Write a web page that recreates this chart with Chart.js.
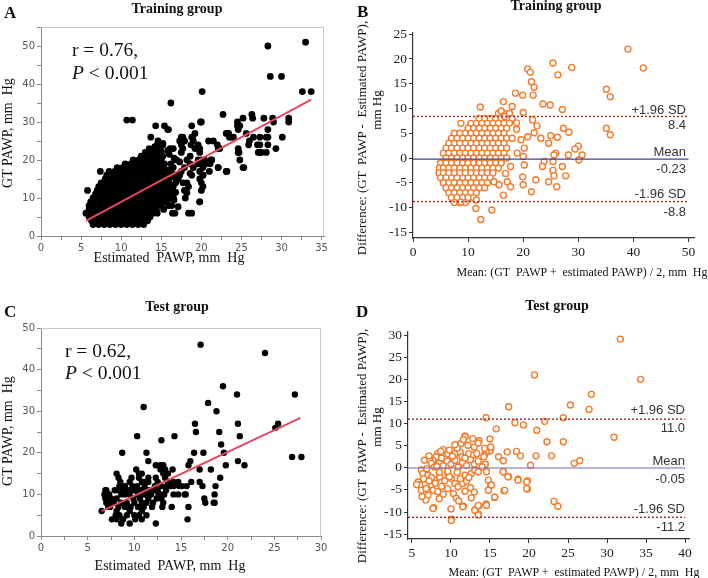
<!DOCTYPE html>
<html>
<head>
<meta charset="utf-8">
<script src="https://cdn.jsdelivr.net/npm/chart.js@4.4.1/dist/chart.umd.min.js"></script>
<style>
body { margin: 0; background: #fff; width: 708px; height: 578px; position: relative; overflow: hidden;
       font-family: "Liberation Serif", "Times New Roman", serif; color: #111; }
canvas { position: absolute; }
.t, .l, .r, .v { position: absolute; white-space: pre; line-height: 1; }
.t { transform: translate(-50%, -50%); }
.l { transform: translateY(-50%); }
.r { transform: translate(-100%, -50%); font-family: "Liberation Sans", Arial, sans-serif; font-size: 13px; color: #333; }
.v { transform: translate(-50%, -50%) rotate(-90deg); }
.ttl { font-weight: bold; font-size: 14px; }
.let { font-weight: bold; font-size: 17px; }
.ax { font-size: 14px; }
.ba { font-size: 13px; }
.bx { font-size: 12px; }
.big { font-size: 19.5px; }
</style>
</head>
<body>
<canvas id="cA" width="354" height="289" style="left:0;top:0"></canvas>
<canvas id="cB" width="354" height="289" style="left:354px;top:0"></canvas>
<canvas id="cC" width="354" height="289" style="left:0;top:289px"></canvas>
<canvas id="cD" width="354" height="289" style="left:354px;top:289px"></canvas>

<!-- panel A -->
<div class="l let" style="left:4px;top:12px">A</div>
<div class="t ttl" style="left:177px;top:9px">Training group</div>
<div class="l big" style="left:72px;top:50px">r = 0.76,</div>
<div class="l big" style="left:72px;top:73px"><i>P</i> &lt; 0.001</div>
<div class="v ax" style="left:8px;top:133px">GT PAWP, mm  Hg</div>
<div class="t ax" style="left:169px;top:258px">Estimated  PAWP, mm  Hg</div>

<!-- panel B -->
<div class="l let" style="left:357px;top:11px">B</div>
<div class="t ttl" style="left:556px;top:6px">Training group</div>
<div class="v ba" style="left:361px;top:138px">Difference: (GT  PAWP -  Estimated PAWP),</div>
<div class="v ba" style="left:376px;top:110px">mm Hg</div>
<div class="t bx" style="left:582px;top:272px">Mean: (GT  PAWP +  estimated PAWP) / 2, mm  Hg</div>
<div class="r" style="left:686px;top:109px">+1.96 SD</div>
<div class="r" style="left:686px;top:124px">8.4</div>
<div class="r" style="left:686px;top:151px">Mean</div>
<div class="r" style="left:686px;top:168px">-0.23</div>
<div class="r" style="left:686px;top:193px">-1.96 SD</div>
<div class="r" style="left:686px;top:211px">-8.8</div>

<!-- panel C -->
<div class="l let" style="left:4px;top:311px">C</div>
<div class="t ttl" style="left:177px;top:307px">Test group</div>
<div class="l big" style="left:65px;top:351px">r = 0.62,</div>
<div class="l big" style="left:65px;top:373px"><i>P</i> &lt; 0.001</div>
<div class="v ax" style="left:8px;top:431px">GT PAWP, mm  Hg</div>
<div class="t ax" style="left:170px;top:566px">Estimated  PAWP, mm  Hg</div>

<!-- panel D -->
<div class="l let" style="left:356px;top:311px">D</div>
<div class="t ttl" style="left:557px;top:306px">Test group</div>
<div class="v ba" style="left:361px;top:446px">Difference: (GT  PAWP -  Estimated PAWP),</div>
<div class="v ba" style="left:376px;top:427px">mm Hg</div>
<div class="t bx" style="left:574px;top:572px">Mean: (GT  PAWP +  estimated PAWP) / 2, mm  Hg</div>
<div class="r" style="left:685px;top:409px">+1.96 SD</div>
<div class="r" style="left:685px;top:427px">11.0</div>
<div class="r" style="left:685px;top:460px">Mean</div>
<div class="r" style="left:685px;top:478px">-0.05</div>
<div class="r" style="left:685px;top:508px">-1.96 SD</div>
<div class="r" style="left:685px;top:526px">-11.2</div>

<script>
// ---- data ----
// A: training group, [estimated PAWP, GT PAWP]
const trainPts = [
  [6.5,3],[7.2,3],[7.9,3],[8.6,3],[9.3,3],[10,3],[10.7,3],[11.4,3],[12.1,3],[12.8,3],
  [6.3,4],[7,4],[7.7,4],[8.4,4],[9.1,4],[9.8,4],[10.5,4],[11.2,4],[11.9,4],[12.6,4],[13.3,4],
  [6,5],[6.7,5],[7.4,5],[8.1,5],[8.8,5],[9.5,5],[10.2,5],[10.9,5],[11.6,5],[12.3,5],[13,5],[13.6,5],
  [5.6,6],[6.3,6],[7,6],[7.7,6],[8.4,6],[9.1,6],[9.8,6],[10.5,6],[11.2,6],[11.9,6],[12.6,6],[13.3,6],[14,6],[14.5,6],[16.4,6],[18.4,6],
  [6,7],[6.7,7],[7.4,7],[8.1,7],[8.8,7],[9.5,7],[10.2,7],[10.9,7],[11.6,7],[12.3,7],[13,7],[13.7,7],[14.4,7],[15.3,7],
  [6,8],[6.7,8],[7.4,8],[8.1,8],[8.8,8],[9.5,8],[10.2,8],[10.9,8],[11.6,8],[12.3,8],[13,8],[13.7,8],[14.4,8],[15,8],[15.9,8],
  [6.2,9],[6.9,9],[7.6,9],[8.3,9],[9,9],[9.7,9],[10.4,9],[11.1,9],[11.8,9],[12.5,9],[13.2,9],[13.9,9],[14.6,9],[15.3,9],[19.8,9],
  [6.5,10],[7.2,10],[7.9,10],[8.6,10],[9.3,10],[10,10],[10.7,10],[11.4,10],[12.1,10],[12.8,10],[13.5,10],[14.2,10],[14.9,10],[15.5,10],[18,10],
  [6.8,11],[7.5,11],[8.2,11],[8.9,11],[9.6,11],[10.3,11],[11,11],[11.7,11],[12.4,11],[13.1,11],[13.8,11],[14.5,11],[15.2,11],[16,11],
  [5.8,12],[7,12],[7.7,12],[8.4,12],[9.1,12],[9.8,12],[10.5,12],[11.2,12],[11.9,12],[12.6,12],[13.3,12],[14,12],[14.7,12],[15.4,12],[16.3,12],[20,12],
  [7.2,13],[7.9,13],[8.6,13],[9.3,13],[10,13],[10.7,13],[11.4,13],[12.1,13],[12.8,13],[13.5,13],[14.2,13],[14.9,13],[15.6,13],[16.4,13],[18.4,13],[20.2,13],
  [7.5,14],[8.2,14],[8.9,14],[9.6,14],[10.3,14],[11,14],[11.7,14],[12.4,14],[13.1,14],[13.8,14],[14.5,14],[15.2,14],[16,14],[18.2,14],[20,14],
  [8,15],[8.7,15],[9.4,15],[10.1,15],[10.8,15],[11.5,15],[12.2,15],[12.9,15],[13.6,15],[14.3,15],[15,15],[15.8,15],[17.1,15],
  [8.2,16],[8.9,16],[9.6,16],[10.3,16],[11,16],[11.7,16],[12.4,16],[13.1,16],[13.8,16],[14.5,16],[15.3,16],[18.8,16],[20.2,16],
  [7.4,17],[8.5,17],[9.2,17],[9.9,17],[10.6,17],[11.3,17],[12,17],[12.7,17],[13.4,17],[14.1,17],[14.8,17],[15.5,17],[17.5,17],[19.8,17],[23.2,17],
  [9.5,18],[10.2,18],[10.9,18],[11.6,18],[12.3,18],[13,18],[13.7,18],[14.4,18],[15.1,18],[19,18],[20.2,18],[22.1,18],[25.2,18],
  [10.5,19],[11.2,19],[11.9,19],[12.6,19],[13.3,19],[14,19],[14.7,19],[15.4,19],[19.6,19],[20.6,19],[21.1,19],
  [11.5,20],[12.2,20],[12.9,20],[13.6,20],[14.3,20],[15,20],[16.9,20],[18.2,20],[20,20],[21.3,20],[24.8,20],
  [12.5,21],[13.2,21],[13.9,21],[14.6,21],[15.2,21],
  [13,22],[13.7,22],[14.4,22],[15,22],[17.5,22],[19.8,22],[24.6,22],[27.1,22],[27.5,22],
  [13.5,23],[14.2,23],[14.9,23],[16.5,23],[19.2,23],[22.1,23],[24.6,23],[29.3,23],
  [14.5,24],[15.2,24],[17.5,24],[18.7,24],[25.9,24],[27.3,24],[28.3,24],
  [17.3,25],[20.9,25],[21.5,25],
  [13.7,26],[17.7,26],[18.9,26],[23.7,26],[24,26],[26.5,26],[28.3,26],[30.1,26],
  [19.2,27],[23.4,27],[25.6,27],
  [15.9,28],[24.6,28],
  [14.3,29],[15.4,29],[18.8,29],[24.5,29],
  [20,30],[24.5,30],[29,30],[30.9,30],[10.7,30.5],[11.4,30.5],
  [25.2,31],[26.4,31],[27.8,31],[28.9,31],[30.9,31],
  [22.7,32],[16.2,35],[20.1,38],[32.6,38],[33.7,38],[28.6,42],[30,42],[28.3,50],[33,51],
  [15.8,28],[19.9,30],[24.8,29],[26.3,32],[23.1,27],[23.5,26],[26,25],[27.3,26],[28.3,28],
  [28.1,26],[27,24],[27.3,22],[28.1,22],[24.7,22],[25.3,18],[23.1,17],[22,24],[22.3,23],[22.1,18],
  [21.2,20],[21,17],[20.4,20],[20,19],[19.8,15],[19.8,9],[18.8,6],[17.5,26],[17.9,25],[18.8,26],
  [19,25],[19.6,24],[19.8,23],[17.7,23],[18.6,21],[19.6,20],[17.3,19.5],[17.9,18],[18.6,19],
  [17.3,16],[18.6,16.5],[20.2,16],[17.7,14],[17.9,12],[18.2,11.4],[16.7,15.4],[17.1,16.3],
  [16.1,12],[16.6,9.5],[17.1,7.7],[16.7,6],[15.8,17.4],[16.1,15.6],[15.2,24.4],[16.1,23],
  [14.6,25],[14.2,23.5],[16.5,10.5],[16.8,11.5],[16.5,13],[16.8,14],[16.3,16.5],[16.5,18],
  [16.2,19],[16.6,20.5],[16,21.5],[15.8,22.5],[16.3,8],[15.8,9.5]
];
const trainFitX = [5.6, 33.7];
const trainFitY = [4.0, 35.9];

// B: training group Bland-Altman, [mean, difference]
const trainBA = [
  [15.5,9],[16.5,9],[17.5,9],
  [12,8],[13,8],[14,8],[15,8],[16,8],[17,8],[18,8],
  [10.5,7],[11.5,7],[12.5,7],[13.5,7],[14.5,7],[15.5,7],[16.5,7],[17.5,7],
  [10,6],[11,6],[12,6],[13,6],[14,6],[15,6],[16,6],[17,6],
  [7.5,5],[8.5,5],[9.5,5],[10.5,5],[11.5,5],[12.5,5],[13.5,5],[14.5,5],[15.5,5],[16.5,5],
  [7,4],[8,4],[9,4],[10,4],[11,4],[12,4],[13,4],[14,4],[15,4],[16,4],[17,4],[18,4],
  [6.5,3],[7.5,3],[8.5,3],[9.5,3],[10.5,3],[11.5,3],[12.5,3],[13.5,3],[14.5,3],[15.5,3],[16.5,3],
  [6,2],[7,2],[8,2],[9,2],[10,2],[11,2],[12,2],[13,2],[14,2],[15,2],[16,2],[17,2],
  [5.5,1],[6.5,1],[7.5,1],[8.5,1],[9.5,1],[10.5,1],[11.5,1],[12.5,1],[13.5,1],[14.5,1],[15.5,1],[16.5,1],
  [6,0],[7,0],[8,0],[9,0],[10,0],[11,0],[12,0],[13,0],[14,0],[15,0],[16,0],[17,0],
  [5,-1],[6,-1],[7,-1],[8,-1],[9,-1],[10,-1],[11,-1],[12,-1],[13,-1],[14,-1],[15,-1],[16,-1],
  [4.8,-2],[5.5,-2],[6.5,-2],[7.5,-2],[8.5,-2],[9.5,-2],[10.5,-2],[11.5,-2],[12.5,-2],[13.5,-2],[14.5,-2],[15.5,-2],
  [4.7,-3],[5.5,-3],[6.5,-3],[7.5,-3],[8.5,-3],[9.5,-3],[10.5,-3],[11.5,-3],[12.5,-3],[13.5,-3],[14.5,-3],
  [5,-4],[6,-4],[7,-4],[8,-4],[9,-4],[10,-4],[11,-4],[12,-4],[13,-4],[14,-4],
  [5.5,-5],[6.5,-5],[7.5,-5],[8.5,-5],[9.5,-5],[10.5,-5],[11.5,-5],[12.5,-5],[13.5,-5],
  [6,-6],[7,-6],[8,-6],[9,-6],[10,-6],[11,-6],[12,-6],[13,-6],
  [6.5,-7],[7.5,-7],[8.5,-7],[9.5,-7],[10.5,-7],[11.5,-7],
  [7,-8],[8,-8],[9,-8],[10,-8],[11,-8],
  [7.5,-9],[8.5,-9],[9.5,-9],
  [39,22],[41.8,18.2],[25.4,19.2],[28.8,18.3],[26.3,16.8],[20.8,18],[21.3,17.3],
  [19.9,12.7],[18.6,13.1],[21.5,15.4],[22,14.3],[21.8,12.7],[35.1,13.9],[35.8,12.4],
  [23.6,10.9],[24.9,10.7],[27.1,9.8],[16.4,11.4],[12.2,10.3],[18,10.4],[35.1,6],[35.8,4.7],
  [20,9.2],[21.7,7.7],[22.5,6.5],[23.2,4],[24.6,3],[25,4.5],[26.2,4.2],[27.3,6],[28.3,5.2],
  [25.9,1],[25.6,0.6],[28.2,0.6],[30,2.4],[29.4,1.8],[30.7,0.6],[30.1,-0.4],
  [23.8,-0.7],[23.5,-1.7],[25.4,-0.7],[27.1,-1.7],[25.4,-2.5],[25.6,-3.6],[27.7,-3.6],
  [24.6,-4.8],[26.1,-5.8],[22.3,-4.4],[21.5,-6.8],[20,-5.4],[19.9,-3.8],[20.2,-1.4],
  [20,0.3],[18.9,1],[20.2,2],[19.6,3.7],[20.8,4.3],[22,5.1],[18.8,5.8],[17.7,-1.7],
  [16.8,-3.1],[17.1,-4.8],[17.7,-5.8],[16.4,-7.5],[15.6,-5.4],[14.7,-4.8],[14.3,-10.5],
  [12.3,-12.4],[11.4,-10.2],[11.5,-8.5],[8.7,-8.9],[8.7,7],[16,9.5],[16.6,8.4],[18.8,7.1]
];
const trainLimits = [8.4, -0.23, -8.8];
const trainLimitX = [0, 50];

// C: test group, [estimated PAWP, GT PAWP]
const testPts = [
  [17.1,46],[24,44],[27.2,34],[19.5,36],[11,31],[17.9,32],[21,34],[18.8,30],[16.5,27],[21.1,27],
  [25.4,27],[25.1,26],[16.6,25],[19.1,25],[10.3,24],[14.3,24],[21.3,24],[12.9,23],[19.3,22],[19.6,20],
  [26.9,19],[27.9,19],[8.7,20],[11.3,20],[16.4,20],[17.4,20],[11.5,18],[21.1,18],[21.8,17],[19.8,17],
  [15.8,17],[16,18],[17,16],[18.2,16],[19.2,14],[16.1,13],[17,13],[17.3,12],[18.7,12],[18.6,10],
  [18.6,8],[17.5,9],[17.6,8],[15.5,10],[15.8,7],[15.7,4],[12.3,3],
  [12.3,17],[12.8,17],[13.1,17],[14.1,16],[8.1,15],[10.5,15],[10.5,14],[8.3,14],[8.5,13],[9.7,14],
  [11,13],[11.5,13],[13.1,15],[13.3,14],[13.6,13],[14.2,13],[14.7,13],[9,12],[10.1,11],[11.1,12],
  [12.2,12],[12.9,12],[6.9,11],[7.2,10],[7.9,11],[8.6,10],[9.5,11],[10.4,10],[11,10],[11.9,11],
  [12.6,10],[13.5,12],[13.8,12],[14.2,10],[14.7,10],[15.4,10],[6.9,9],[7.6,8],[8.1,9],[9,10],
  [9.9,9],[10.8,8],[11.5,9],[12.9,9],[13.1,8],[18.5,8],[6.5,6],[7.4,7],[8.1,6],[9,7],[9.5,6],
  [10.8,6],[11.9,7],[14,7],[7.6,4],[8.1,4],[8.8,4],[8.6,3],[9.5,3],[10.1,4],[10.8,4],
  [7,11],[7.3,10],[7.5,9],[7.8,8],[8.2,11],[8.4,12],[8.8,11],[9.2,11],[9.5,10],[9.8,12],[10,11],
  [10.3,12],[10.6,11],[10.9,11],[11.2,10],[11.5,11],[11.8,10],[12.2,11],[12.5,11],[12.8,10],
  [13.2,10],[13.4,11],[13.9,12],[14.2,12],[8.3,7],[8.6,8],[9.2,8],[9.6,7],[10,8],[10.4,7],[10.6,9],
  [11,7],[11.3,8],[12,8],[12.4,9],[13,7],[8,5],[8.4,5],[9.2,5],[10,5],[10.5,5],[11.3,5],[7,8],
  [6.8,10],[7.2,7],[9.5,13],[10.8,13],[12.5,13],[12.3,14],[11.5,14],[10.2,16],[10.8,15],[12.8,16],
  [13.3,16],[13.6,15],[14.8,12],[15.1,12],[15.6,12]
];
const testFitX = [6.5, 27.8];
const testFitY = [6.0, 28.4];

// D: test group Bland-Altman, [mean, difference]
const testBA = [
  [31.7,29.1],[34.3,20],[20.7,21],[28,16.6],[27.7,13.2],[25.3,14.2],[17.4,13.8],[14.5,11.3],
  [24.4,11.3],[22,10.5],[18.2,10.2],[19.3,9.7],[15.8,8.8],[21,8.5],[30.9,6.9],[15,6.5],[22.3,5.9],
  [24.4,5.9],[18.4,3.7],[18.9,2.7],[17.2,3.6],[16.1,2.5],[20.9,2.7],[22.9,2.7],[15.1,4.4],[15,3.8],
  [14.5,3.6],[14.3,2.9],[16.7,1.6],[20.2,0.6],[25.8,1],[26.5,1.6],[14.4,0.8],[16.7,-0.9],[17.4,-2],
  [18.6,-2.6],[19.8,-2.9],[19.8,-4.8],[15.1,-3.9],[14.8,-5],[16.8,-5.2],[15.6,-6.7],[23.2,-7.6],
  [23.7,-8.7],[14.5,-8.2],[13.6,-8.6],[13.5,-10.5],[13.1,-9.5],[11.6,-8.7],[10.1,-11.6],[7.8,-9],
  [11.8,7.2],[13.6,6.1],
  [11.8,7],[11.3,5.5],[12.2,5.1],[13,4.7],[13.5,5.6],[14.3,4.4],[15.1,4.7],[9,4.1],[8.3,3.2],
  [8.1,2.5],[7.7,1.7],[9.6,3.2],[9.9,1.9],[10.5,3.2],[11.2,3.5],[11.4,2.5],[12.3,3.2],[12.9,2.9],
  [13.3,3.2],[14.2,2.5],[6.6,1.7],[7.3,1.7],[7.5,1],[6.2,-0.5],[6.9,-0.2],[7.9,0.2],
  [8.5,1],[9,0.5],[9.5,1.5],[10,0.8],[10.5,1.7],[11,0.3],[11.5,1.2],[12,0.5],[12.5,1.8],[13,0.8],
  [13.5,1.5],[14,0.2],[8.8,2.2],[10.2,2.6],[11.8,2.2],[12.8,6.6],[10.8,4.5],[9.8,4],[8.7,3.7],
  [10.5,5.2],[11.6,6.4],[8.2,0.3],[7.2,2.7],[10.9,0.1],
  [6.4,-1.3],[7.05,-1.7],[5.8,-3.2],[6,-3.9],[6.2,-5.1],[6.8,-4.7],[7.5,-3.9],[8.1,-2.8],
  [8.55,-2.05],[9.6,-1.3],[10.05,-2.4],[10.5,-3.55],[10.9,-4.3],[11.5,-3.55],[11.8,-1.7],
  [12.6,-1.3],[13.05,-0.5],[13.5,-0.9],[14.55,-0.9],[14.8,-2.8],[15.2,-3.9],[14.8,-5.1],[15.6,-6.6],
  [16.7,-0.9],[16.9,-5.1],[17.3,-2.05],[18.6,-2.8],[19.7,-3.2],[19.7,-4.7],[7.7,-5.1],[8.3,-5.4],
  [7.05,-6.2],[6.8,-7.3],[7.7,-9.2],[9.6,-4.7],[10.3,-5.8],[10.7,-6.9],[11.5,-8.8],[13.05,-9.6],
  [13.5,-8.5],[14.55,-8.5],[13.5,-10.7],[10.05,-11.9],
  [6.5,-2.5],[7.5,-2.2],[8,-3.5],[8.8,-4.2],[9.2,-3],[9.8,-2],[10.8,-1],[11.2,-2.5],[12,-3],
  [12.5,-4.5],[12.3,-2.2],[9,-6],[8.5,-7],[11.8,-5.3],[13,-5.5],[12.6,-6.8],[9.6,-0.8],[8.5,-1],
  [7.2,-3],[5.6,-3.8],[6.3,-6.5],[11,-7.5],[10,-9.3]
];
const testLimits = [11.0, -0.05, -11.2];
const testLimitX = [4.5, 40];

// ---- drawing ----
const toXY = arr => arr.map(p => ({ x: p[0], y: p[1] }));

// light box on top and right of the scatter panels
const boxLines = {
  id: 'boxLines',
  beforeDatasetsDraw(chart, args, opts) {
    if (!opts.color) return;
    const a = chart.chartArea, c = chart.ctx;
    c.save();
    c.strokeStyle = opts.color;
    c.lineWidth = 1;
    c.beginPath();
    c.moveTo(a.left, a.top + 0.5);
    c.lineTo(a.right - 0.5, a.top + 0.5);
    c.lineTo(a.right - 0.5, a.bottom);
    c.stroke();
    c.restore();
  }
};

function axis(range, step, every, size, isX, st) {
  return {
    type: 'linear', min: range[0], max: range[1],
    afterFit: s => { if (isX) s.height = size; else s.width = size; },
    ticks: {
      stepSize: step, includeBounds: false, autoSkip: false, maxRotation: 0,
      font: st.font, color: st.tick, padding: st.pad,
      callback: v => (Math.abs(v % every) < 1e-6 ? v : '')
    },
    grid: { drawOnChartArea: false, drawTicks: true, tickLength: 4, color: st.axis, tickColor: st.axis },
    border: { color: st.axis, width: st.bw }
  };
}

function panel(id, pad, xAx, yAx, datasets, box) {
  return new Chart(document.getElementById(id), {
    type: 'scatter',
    data: { datasets },
    options: {
      responsive: false, animation: false,
      layout: { padding: pad },
      plugins: { legend: { display: false }, tooltip: { enabled: false }, boxLines: { color: box } },
      scales: { x: xAx, y: yAx }
    },
    plugins: [boxLines]
  });
}

const sansTicks = { font: { family: 'DejaVu Sans', size: 10 }, tick: '#555', axis: '#8a8a8a', bw: 1, pad: 2 };
const serifTicks = { font: { family: 'Liberation Serif', size: 13.5 }, tick: '#222', axis: '#333', bw: 1.2, pad: 2 };

function dots(pts, r) {
  return { data: toXY(pts), pointRadius: r, pointBackgroundColor: '#000', pointBorderWidth: 0, order: 2 };
}
function fit(xs, ys) {
  return { data: xs.map((x, i) => ({ x, y: ys[i] })), showLine: true, borderColor: '#e8465e',
           borderWidth: 2, pointRadius: 0, order: 0 };
}
function rings(pts) {
  return { data: toXY(pts), pointRadius: 3, pointBorderColor: '#f47b2a', pointBackgroundColor: '#fff',
           pointBorderWidth: 1.4, order: 2 };
}
function hline(xs, y, color, dash, w) {
  return { data: xs.map(x => ({ x, y })), showLine: true, borderColor: color, borderDash: dash,
           borderWidth: w, pointRadius: 0, order: 0 };
}
function limitLines(xs, lims, meanColor) {
  return [
    hline(xs, lims[0], '#a3262a', [2, 2], 1.4),
    hline(xs, lims[1], meanColor, [], 1.2),
    hline(xs, lims[2], '#a3262a', [2, 2], 1.4)
  ];
}

panel('cA', { left: 0, right: 30, top: 27, bottom: 20 },
  axis([0, 35.3], 2.5, 5, 33, true, sansTicks),
  axis([0, 55], 5, 10, 41, false, sansTicks),
  [dots(trainPts, 3.4), fit(trainFitX, trainFitY)], '#c8c8c8');

panel('cB', { left: 0, right: 14, top: 33, bottom: 20 },
  axis([0, 51], 10, 10, 31, true, serifTicks),
  axis([-16.15, 25.25], 5, 5, 59, false, serifTicks),
  [rings(trainBA)].concat(limitLines(trainLimitX, trainLimits, '#40409e')), null);

panel('cC', { left: 0, right: 33, top: 39, bottom: 12 },
  axis([0, 30], 2.5, 5, 30, true, sansTicks),
  axis([0, 50], 5, 10, 41, false, sansTicks),
  [dots(testPts, 3.2), fit(testFitX, testFitY)], '#c8c8c8');

panel('cD', { left: 0, right: 19, top: 43, bottom: 9 },
  axis([4.5, 40.5], 5, 5, 30, true, serifTicks),
  axis([-16.1, 30.7], 5, 5, 54, false, serifTicks),
  [rings(testBA)].concat(limitLines(testLimitX, testLimits, '#6a6ab8')), null);
</script>
</body>
</html>
